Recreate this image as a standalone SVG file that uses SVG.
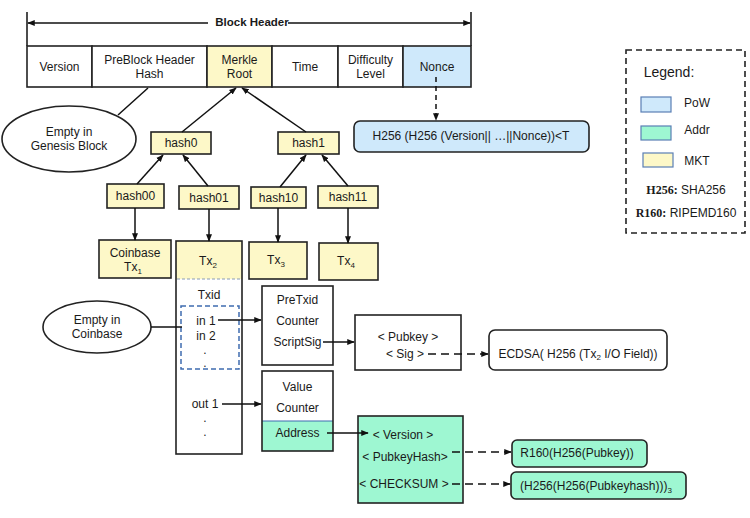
<svg xmlns="http://www.w3.org/2000/svg" width="750" height="518" viewBox="0 0 750 518">
<defs>
<marker id="ah" viewBox="0 0 10 10" refX="9" refY="5" markerWidth="5" markerHeight="5" orient="auto-start-reverse"><path d="M0,1 L10,5 L0,9 z" fill="#111"/></marker>
<style>
text{font-family:"Liberation Sans",Arial,sans-serif;font-size:12px;fill:#1a1a1a;text-anchor:middle;dominant-baseline:central}
.b{stroke:#222;stroke-width:1.6}
.w{fill:#fff}
.y{fill:#fdf8c8}
.p{fill:#cfe9fb}
.g{fill:#9ef7d2}
.ln{stroke:#111;stroke-width:1.5;fill:none}
.dl{stroke:#111;stroke-width:1.5;fill:none;stroke-dasharray:8,5}
.sm{font-size:8px}
.bold{font-weight:bold}
.serif{font-family:"Liberation Serif","Times New Roman",serif;font-weight:bold}
</style>
</defs>
<rect width="750" height="518" fill="#fff"/>

<g id="block-header-label">
<line x1="27" y1="12" x2="27" y2="46" class="ln"/>
<line x1="471" y1="12" x2="471" y2="46" class="ln"/>
<line x1="28" y1="23" x2="208" y2="23" class="ln" marker-start="url(#ah)"/>
<line x1="288" y1="23" x2="470" y2="23" class="ln" marker-end="url(#ah)"/>
<text x="252" y="22" class="bold" style="font-size:11.5px">Block Header</text>
</g>

<g id="header">
<rect x="27" y="46" width="65" height="41" class="b w"/>
<text x="59.5" y="67">Version</text>
<rect x="92" y="46" width="115" height="41" class="b w"/>
<text x="149.5" y="60">PreBlock Header</text>
<text x="149.5" y="74">Hash</text>
<rect x="207" y="46" width="65" height="41" class="b y"/>
<text x="239.5" y="60">Merkle</text>
<text x="239.5" y="74">Root</text>
<rect x="272" y="46" width="66" height="41" class="b w"/>
<text x="305" y="67">Time</text>
<rect x="338" y="46" width="65" height="41" class="b w"/>
<text x="370.5" y="60">Difficulty</text>
<text x="370.5" y="74">Level</text>
<rect x="403" y="46" width="68" height="41" class="b p"/>
<text x="437" y="67">Nonce</text>
</g>

<g id="genesis">
<ellipse cx="69" cy="139" rx="67" ry="33" class="b w"/>
<text x="69" y="132">Empty in</text>
<text x="69" y="146">Genesis Block</text>
</g>

<g id="pow">
<rect x="354" y="121" width="235" height="31" rx="6" class="b p"/>
<text x="471" y="136">H256 (H256 (Version|| …||Nonce))&lt;T</text>
</g>

<g id="hash0"><rect x="151" y="132" width="60" height="22" class="b y"/><text x="181" y="143">hash0</text></g>
<g id="hash1"><rect x="278" y="132" width="61" height="22" class="b y"/><text x="308.5" y="143">hash1</text></g>
<g id="hash00"><rect x="107" y="184" width="57" height="24" class="b y"/><text x="135.5" y="196">hash00</text></g>
<g id="hash01"><rect x="179" y="186" width="60" height="23" class="b y"/><text x="209" y="197.5">hash01</text></g>
<g id="hash10"><rect x="251" y="187" width="55" height="21" class="b y"/><text x="278.5" y="197.5">hash10</text></g>
<g id="hash11"><rect x="318" y="186" width="60" height="22" class="b y"/><text x="348" y="197">hash11</text></g>

<g id="tx1"><rect x="99" y="240" width="72" height="38" class="b y"/>
<text x="135" y="253">Coinbase</text>
<text x="133" y="267">Tx<tspan class="sm" dy="4">1</tspan></text></g>

<g id="tx2">
<rect x="176" y="241" width="66" height="38" class="y"/>
<line x1="177" y1="279" x2="241" y2="279" stroke="#8a9bb5" stroke-width="1.2" stroke-dasharray="3,2"/>
<rect x="176" y="241" width="66" height="213" fill="none" class="b"/>
<text x="208" y="261">Tx<tspan class="sm" dy="4">2</tspan></text>
<text x="209" y="295">Txid</text>
<rect x="181" y="306" width="58" height="63" fill="none" stroke="#3f6cb0" stroke-width="1.5" stroke-dasharray="5,3"/>
<text x="206" y="321">in 1</text>
<text x="206" y="336">in 2</text>
<text x="205" y="350">.</text>
<text x="205" y="363">.</text>
<text x="205" y="404">out 1</text>
<text x="205" y="418">.</text>
<text x="205" y="432">.</text>
</g>

<g id="tx3"><rect x="249" y="242" width="58" height="37" class="b y"/><text x="276" y="260">Tx<tspan class="sm" dy="4">3</tspan></text></g>
<g id="tx4"><rect x="319" y="243" width="59" height="37" class="b y"/><text x="346" y="261">Tx<tspan class="sm" dy="4">4</tspan></text></g>

<g id="coinbase-empty">
<ellipse cx="97" cy="327" rx="54" ry="26" class="b w"/>
<text x="97" y="320">Empty in</text>
<text x="97" y="334">Coinbase</text>
</g>

<g id="input">
<rect x="262" y="286" width="71" height="79" class="b w"/>
<text x="297.5" y="300">PreTxid</text>
<text x="297.5" y="321">Counter</text>
<text x="297.5" y="342">ScriptSig</text>
</g>

<g id="output">
<rect x="262" y="371" width="71" height="50" class="w"/>
<rect x="262" y="421" width="71" height="30" class="g"/>
<line x1="262" y1="421" x2="333" y2="421" stroke="#3f6cb0" stroke-width="1"/>
<rect x="262" y="371" width="71" height="80" fill="none" class="b"/>
<text x="297.5" y="387">Value</text>
<text x="297.5" y="408">Counter</text>
<text x="297.5" y="433">Address</text>
</g>

<g id="scriptsig">
<rect x="355" y="315" width="106" height="55" class="b w"/>
<text x="408" y="337">&lt; Pubkey &gt;</text>
<text x="405" y="354">&lt; Sig &gt;</text>
</g>

<g id="ecdsa">
<rect x="489" y="330" width="178" height="40" rx="6" class="b w"/>
<text x="578" y="354">ECDSA( H256 (Tx<tspan class="sm" dy="3">2</tspan><tspan dy="-3"> I/O Field))</tspan></text>
</g>

<g id="address">
<rect x="358" y="416" width="105" height="87" class="b g"/>
<text x="403" y="435">&lt; Version &gt;</text>
<text x="405" y="457">&lt; PubkeyHash&gt;</text>
<text x="404" y="484">&lt; CHECKSUM &gt;</text>
</g>

<g id="r160">
<rect x="512" y="440" width="135" height="27" rx="5" class="b g"/>
<text x="577" y="453">R160(H256(Pubkey))</text>
</g>

<g id="checksum">
<rect x="511" y="472" width="175" height="27" rx="5" class="b g"/>
<text x="596" y="486">(H256(H256(Pubkeyhash)))<tspan class="sm" dy="4">3</tspan></text>
</g>

<g id="legend">
<rect x="626" y="50" width="119" height="183" fill="none" stroke="#222" stroke-width="1.6" stroke-dasharray="6,4"/>
<text x="669" y="72" style="font-size:14px">Legend:</text>
<rect x="641" y="97" width="30" height="15" fill="#cfe9fb" stroke="#5a7fb5" stroke-width="1.2"/>
<text x="697" y="103">PoW</text>
<rect x="641" y="126" width="30" height="14" fill="#9ef7d2" stroke="#5a7fb5" stroke-width="1.2"/>
<text x="697" y="130">Addr</text>
<rect x="643" y="153" width="30" height="14" fill="#fdf8c8" stroke="#5a7fb5" stroke-width="1.2"/>
<text x="697" y="161">MKT</text>
<text x="686" y="190"><tspan class="serif">H256:</tspan> SHA256</text>
<text x="686" y="213"><tspan class="serif">R160:</tspan> RIPEMD160</text>
</g>

<g id="connectors">
<line x1="148" y1="88" x2="118" y2="115" class="ln"/>
<line x1="182" y1="132" x2="236" y2="88" class="ln" marker-end="url(#ah)"/>
<line x1="306" y1="132" x2="242" y2="88" class="ln" marker-end="url(#ah)"/>
<line x1="137" y1="184" x2="163" y2="155" class="ln" marker-end="url(#ah)"/>
<line x1="208" y1="186" x2="183" y2="155" class="ln" marker-end="url(#ah)"/>
<line x1="280" y1="187" x2="306" y2="155" class="ln" marker-end="url(#ah)"/>
<line x1="348" y1="186" x2="322" y2="155" class="ln" marker-end="url(#ah)"/>
<line x1="135" y1="208" x2="135" y2="240" class="ln" marker-end="url(#ah)"/>
<line x1="209" y1="209" x2="209" y2="241" class="ln" marker-end="url(#ah)"/>
<line x1="278" y1="208" x2="278" y2="242" class="ln" marker-end="url(#ah)"/>
<line x1="348" y1="208" x2="348" y2="243" class="ln" marker-end="url(#ah)"/>
<line x1="436" y1="77" x2="436" y2="120" class="dl" style="stroke-dasharray:5,4" marker-end="url(#ah)"/>
<line x1="151" y1="327" x2="182" y2="327" class="ln"/>
<line x1="218" y1="320" x2="261" y2="320" class="ln" marker-end="url(#ah)"/>
<line x1="222" y1="404" x2="261" y2="404" class="ln" marker-end="url(#ah)"/>
<line x1="323" y1="342" x2="354" y2="342" class="ln" marker-end="url(#ah)"/>
<line x1="428" y1="354" x2="488" y2="354" class="dl" marker-end="url(#ah)"/>
<line x1="327" y1="433" x2="368" y2="433" class="ln" marker-end="url(#ah)"/>
<line x1="452" y1="452" x2="511" y2="452" class="dl" marker-end="url(#ah)"/>
<line x1="452" y1="484" x2="510" y2="484" class="dl" marker-end="url(#ah)"/>
</g>
</svg>
